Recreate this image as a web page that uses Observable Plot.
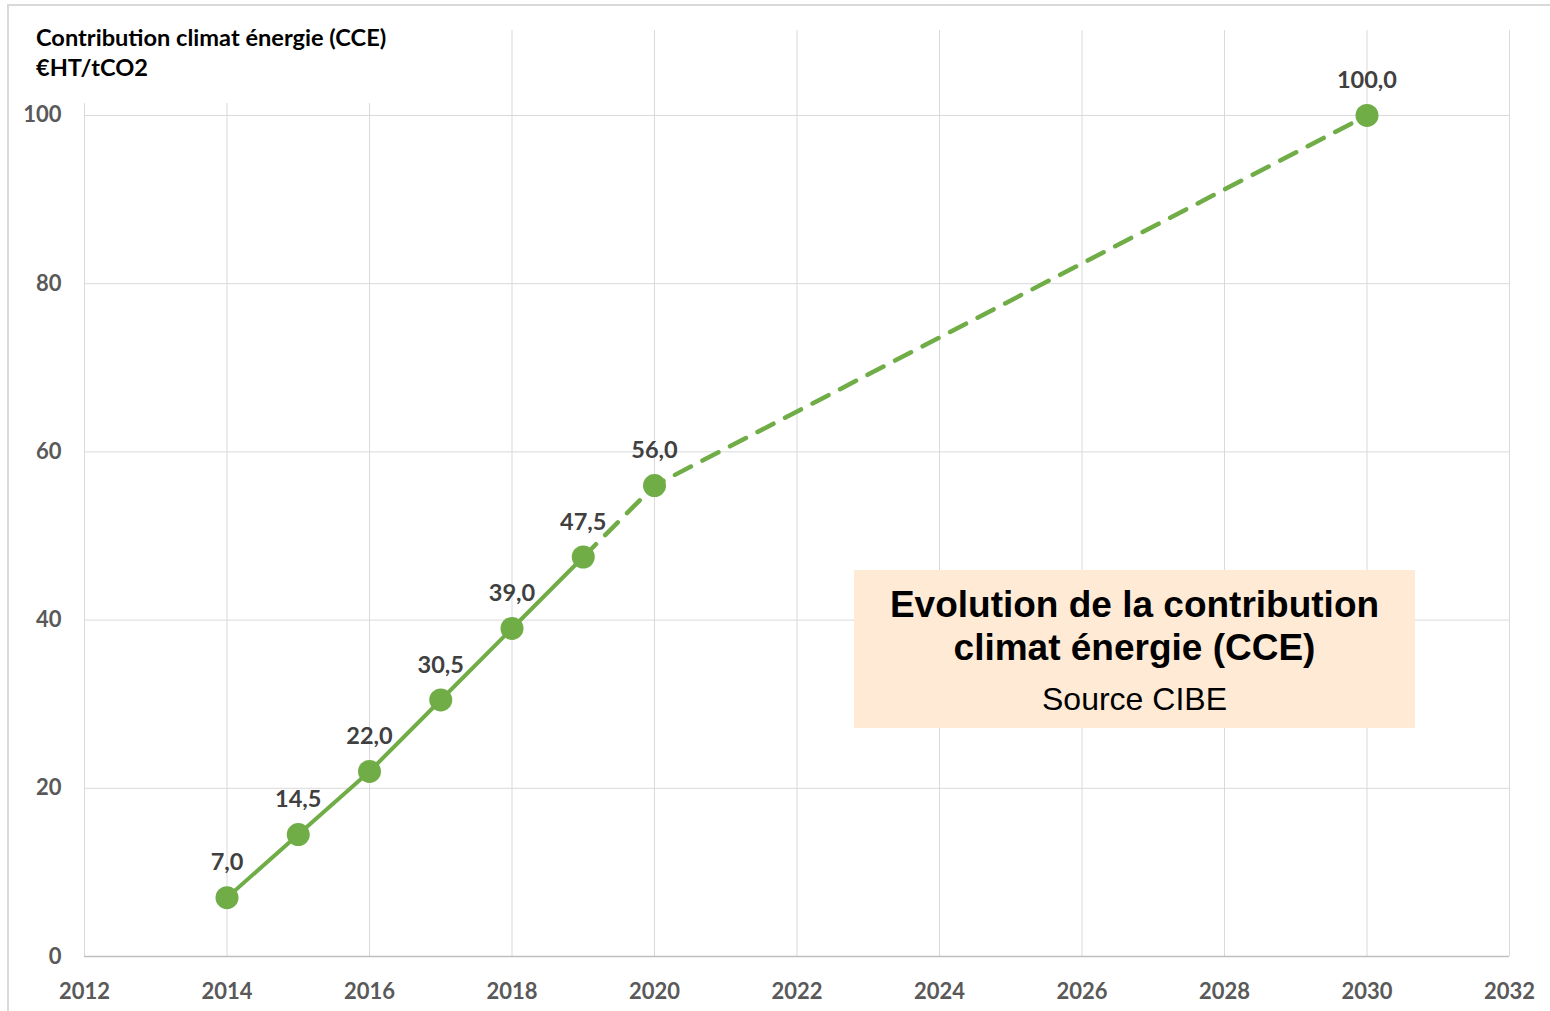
<!DOCTYPE html>
<html><head><meta charset="utf-8">
<script src="https://cdn.jsdelivr.net/npm/d3@7"></script>
<script src="https://cdn.jsdelivr.net/npm/@observablehq/plot@0.6"></script>
<style>
body{margin:0;background:#fff;}
#wrap{position:relative;width:1550px;height:1011px;overflow:hidden;}
#title{position:absolute;left:12px;top:8px;width:392px;height:95px;background:#fff;font-family:Lato;font-weight:bold;font-size:23.6px;color:#000;}
#title div{position:absolute;left:24px;white-space:nowrap;}
#border{position:absolute;left:7px;top:4px;width:1700px;height:1100px;border-top:2px solid #d9d9d9;border-left:2px solid #d9d9d9;pointer-events:none;}
#box{position:absolute;left:854px;top:570px;width:561px;height:158px;background:#FFEBD5;text-align:center;font-family:"Liberation Sans",Arial,sans-serif;color:#000;}
#box .t{font-weight:bold;font-size:37px;line-height:43px;white-space:nowrap;}
#box .s{font-size:32px;line-height:40px;margin-top:10px;}
</style></head>
<body>
<div id="wrap">
<div id="chart"></div>
<div id="title"><div style="top:15px">Contribution climat énergie (CCE)</div><div style="top:45px">€HT/tCO2</div></div>
<div id="box"><div class="t" style="padding-top:13px">Evolution de la contribution<br>climat énergie (CCE)</div><div class="s">Source CIBE</div></div>
<div id="border"></div>
</div>
<script>
const years = [2014, 2015, 2016, 2017, 2018, 2019, 2020, 2030];
const values = [7.0, 14.5, 22.0, 30.5, 39.0, 47.5, 56.0, 100.0];
const xTicks = [2012, 2014, 2016, 2018, 2020, 2022, 2024, 2026, 2028, 2030, 2032];
const yTicks = [0, 20, 40, 60, 80, 100];

const data = years.map((year, i) => ({year, value: values[i]}));
const solid = data.filter(d => d.year <= 2019);
const dashed = data.filter(d => d.year >= 2019);
const green = "#70AD47";
const fmt = v => v.toFixed(1).replace(".", ",");

const chart = Plot.plot({
  width: 1550,
  height: 1011,
  marginLeft: 84,
  marginRight: 41,
  marginTop: 30,
  marginBottom: 55,
  style: {fontFamily: "Lato", background: "transparent"},
  x: {domain: [2012, 2032], label: null},
  y: {domain: [0, 110.1], label: null},
  marks: [
    Plot.gridX(xTicks, {stroke: "#d9d9d9", strokeOpacity: 1, strokeWidth: 1}),
    Plot.gridY(yTicks.filter(d => d > 0), {stroke: "#d9d9d9", strokeOpacity: 1, strokeWidth: 1}),
    Plot.ruleY([0], {stroke: "#bfbfbf", strokeWidth: 1.5}),
    Plot.axisX(xTicks, {tickSize: 0, tickPadding: 27, tickFormat: d => String(d), fontSize: 22, fontWeight: "bold", fill: "#595959", label: null}),
    Plot.axisY(yTicks, {tickSize: 0, tickPadding: 23, fontSize: 22, fontWeight: "bold", fill: "#595959", label: null}),
    Plot.line(solid, {x: "year", y: "value", stroke: green, strokeWidth: 4}),
    Plot.line(dashed, {x: "year", y: "value", stroke: green, strokeWidth: 4.5, strokeDasharray: "18,13", strokeLinecap: "round"}),
    Plot.dot(data, {x: "year", y: "value", r: 11.5, fill: green, stroke: null}),
    Plot.text(data, {x: "year", y: "value", text: d => fmt(d.value), dy: -35, fontSize: 23.5, fontWeight: "bold", fill: "#404040"})
  ]
});
document.getElementById("chart").appendChild(chart);
</script>
</body></html>
